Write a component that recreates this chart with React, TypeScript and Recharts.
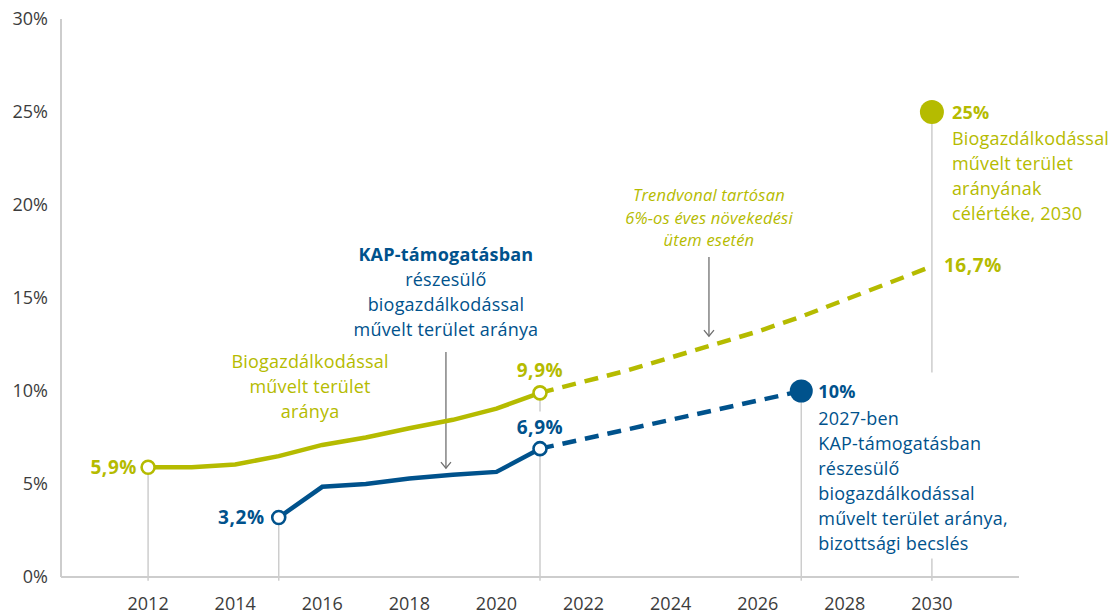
import { LineChart, Line, XAxis, YAxis, ReferenceLine, ReferenceDot } from 'recharts';

const GREEN = '#b5bb00';
const BLUE = '#00528c';
const GREY = '#cdcdcd';
const FONT = "'Open Sans', sans-serif";

// yearly values, % of farmland under organic farming
const years = [2012, 2013, 2014, 2015, 2016, 2017, 2018, 2019, 2020, 2021, 2022, 2023, 2024, 2025, 2026, 2027, 2028, 2029, 2030];
const greenActual = [5.9, 5.9, 6.05, 6.5, 7.1, 7.5, 8.0, 8.45, 9.05, 9.9, null, null, null, null, null, null, null, null, null];
const greenTrend = [null, null, null, null, null, null, null, null, null, 9.9, 10.5, 11.1, 11.8, 12.5, 13.2, 14.0, 14.9, 15.8, 16.7];
const blueActual = [null, null, null, 3.2, 4.85, 5.0, 5.3, 5.5, 5.65, 6.9, null, null, null, null, null, null, null, null, null];
const blueEstimate = [null, null, null, null, null, null, null, null, null, 6.9, null, null, null, null, null, 10, null, null, null];

const xTicks = [2012, 2014, 2016, 2018, 2020, 2022, 2024, 2026, 2028, 2030];
const yTicks = [0, 5, 10, 15, 20, 25, 30];

const rows = years.map((year, i) => ({
  year,
  greenActual: greenActual[i],
  greenTrend: greenTrend[i],
  blueActual: blueActual[i],
  blueEstimate: blueEstimate[i],
}));

type TL = { t: string; b?: boolean };
interface BlockOpts { dx?: number; dy?: number; anchor?: 'start' | 'middle' | 'end'; color: string; size?: number; lh?: number; gap?: number; italic?: boolean; ls?: number; }

// multi-line label drawn relative to a reference dot's centre
function block(lines: TL[], { dx = 0, dy = 0, anchor = 'start', color, size = 18, lh = 25, gap = 0, italic, ls = 0.2 }: BlockOpts) {
  return (props: any) => {
    const vb = props.viewBox || {};
    const cx = vb.x + (vb.width || 0) / 2;
    const cy = vb.y + (vb.height || 0) / 2;
    return (
      <text textAnchor={anchor} fill={color} fontSize={size} fontFamily={FONT} fontStyle={italic ? 'italic' : 'normal'} letterSpacing={ls}>
        {lines.map((l, i) => (
          <tspan key={i} x={cx + dx} y={cy + dy + i * lh + (i > 0 ? gap : 0)} fontWeight={l.b ? 700 : 400}>{l.t}</tspan>
        ))}
      </text>
    );
  };
}

const arrowShape = (props: any) => {
  const { x1, y1, x2, y2 } = props;
  return (
    <g>
      <line x1={x1} y1={y1} x2={x2} y2={y2} stroke="#707070" strokeWidth={1.3} />
      <polyline points={`${x2 - 5},${y2 - 6} ${x2},${y2} ${x2 + 5},${y2 - 6}`} fill="none" stroke="#707070" strokeWidth={1.3} />
    </g>
  );
};

function endDots(color: string, first: number, last: number) {
  return (p: any) => {
    if ((p.index !== first && p.index !== last) || p.value == null) return <g key={p.index} />;
    return <circle key={p.index} cx={p.cx} cy={p.cy} r={6.5} fill="#fff" stroke={color} strokeWidth={2.6} />;
  };
}

const bigDot = (color: string, at: number) => (p: any) => {
  if (p.index !== at) return <g key={p.index} />;
  return <circle key={p.index} cx={p.cx} cy={p.cy} r={11.5} fill={color} />;
};

const tick = { fill: '#3c3c3c', fontSize: 18, fontFamily: FONT };

export default function App() {
  return (
    <div>
      <style>{'body{margin:0}'}</style>
      <LineChart width={1116} height={614} data={rows} margin={{ top: 19, right: 97, bottom: 0, left: 0 }}>
        <XAxis dataKey="year" type="number" domain={[2010, 2032]} ticks={xTicks} axisLine={{ stroke: GREY, strokeWidth: 2 }}
          tickLine={false} tickSize={0} tickMargin={20} height={37} tick={tick} />
        <YAxis domain={[0, 30]} ticks={yTicks} tickFormatter={v => `${v}%`} width={61} axisLine={{ stroke: GREY, strokeWidth: 2 }}
          tickLine={false} tickSize={0} tickMargin={13} tick={tick} />

        {/* drop lines */}
        <ReferenceLine segment={[{ x: 2012, y: -0.2 }, { x: 2012, y: 5.9 }]} stroke={GREY} strokeWidth={1.5} ifOverflow="visible" />
        <ReferenceLine segment={[{ x: 2015, y: -0.2 }, { x: 2015, y: 3.2 }]} stroke={GREY} strokeWidth={1.5} ifOverflow="visible" />
        <ReferenceLine segment={[{ x: 2021, y: -0.2 }, { x: 2021, y: 6.9 }]} stroke={GREY} strokeWidth={1.5} ifOverflow="visible" />
        <ReferenceLine segment={[{ x: 2021, y: 8.9 }, { x: 2021, y: 9.9 }]} stroke={GREY} strokeWidth={1.5} ifOverflow="visible" />
        <ReferenceLine segment={[{ x: 2027, y: -0.2 }, { x: 2027, y: 10 }]} stroke={GREY} strokeWidth={1.5} ifOverflow="visible" />
        <ReferenceLine segment={[{ x: 2030, y: -0.2 }, { x: 2030, y: 1.0 }]} stroke={GREY} strokeWidth={1.5} ifOverflow="visible" />
        <ReferenceLine segment={[{ x: 2030, y: 11.0 }, { x: 2030, y: 25 }]} stroke={GREY} strokeWidth={1.5} ifOverflow="visible" />

        {/* arrows */}
        <ReferenceLine segment={[{ x: 2024.88, y: 17.2 }, { x: 2024.88, y: 12.95 }]} shape={arrowShape} />
        <ReferenceLine segment={[{ x: 2018.84, y: 12.1 }, { x: 2018.84, y: 5.85 }]} shape={arrowShape} />

        <Line dataKey="greenTrend" stroke={GREEN} strokeWidth={4.5} strokeDasharray="14 9" dot={false} isAnimationActive={false} type="linear" />
        <Line dataKey="blueEstimate" stroke={BLUE} strokeWidth={4.5} strokeDasharray="14 9" connectNulls dot={bigDot(BLUE, 15)} isAnimationActive={false} type="linear" />
        <Line dataKey="greenActual" stroke={GREEN} strokeWidth={4.5} dot={endDots(GREEN, 0, 9)} isAnimationActive={false} type="linear" />
        <Line dataKey="blueActual" stroke={BLUE} strokeWidth={4.5} dot={endDots(BLUE, 3, 9)} isAnimationActive={false} type="linear" />

        <ReferenceDot x={2030} y={25} r={12} fill={GREEN} stroke="none"
          label={block([{ t: '25%', b: true }, { t: 'Biogazdálkodással' }, { t: 'művelt terület' }, { t: 'arányának' }, { t: 'célértéke, 2030' }],
            { dx: 20, dy: 6.5, gap: 1, color: GREEN })} />

        {/* value labels */}
        <ReferenceDot x={2012} y={5.9} r={0} stroke="none" label={block([{ t: '5,9%', b: true }], { dx: -11, dy: 6.5, anchor: 'end', color: GREEN, size: 19, ls: 0.6 })} />
        <ReferenceDot x={2015} y={3.2} r={0} stroke="none" label={block([{ t: '3,2%', b: true }], { dx: -14, dy: 6.5, anchor: 'end', color: BLUE, size: 19, ls: 0.6 })} />
        <ReferenceDot x={2021} y={9.9} r={0} stroke="none" label={block([{ t: '9,9%', b: true }], { dy: -16, anchor: 'middle', color: GREEN, size: 19, ls: 0.6 })} />
        <ReferenceDot x={2021} y={6.9} r={0} stroke="none" label={block([{ t: '6,9%', b: true }], { dy: -15, anchor: 'middle', color: BLUE, size: 19, ls: 0.6 })} />
        <ReferenceDot x={2030} y={16.7} r={0} stroke="none" label={block([{ t: '16,7%', b: true }], { dx: 12, dy: 6, color: GREEN, size: 19, ls: 0.6 })} />
        <ReferenceDot x={2027} y={10} r={0} stroke="none"
          label={block([{ t: '10%', b: true }, { t: '2027-ben' }, { t: 'KAP-támogatásban' }, { t: 'részesülő' }, { t: 'biogazdálkodással' }, { t: 'művelt terület aránya,' }, { t: 'bizottsági becslés' }],
            { dx: 17, dy: 6.5, gap: 2, color: BLUE })} />

        {/* captions */}
        <ReferenceDot x={2024.88} y={17.2} r={0} stroke="none"
          label={block([{ t: 'Trendvonal tartósan' }, { t: '6%-os éves növekedési' }, { t: 'ütem esetén' }],
            { dy: -56, lh: 22.5, anchor: 'middle', color: GREEN, size: 16.5, italic: true })} />
        <ReferenceDot x={2018.84} y={12.1} r={0} stroke="none"
          label={block([{ t: 'KAP-támogatásban', b: true }, { t: 'részesülő' }, { t: 'biogazdálkodással' }, { t: 'művelt terület aránya' }],
            { dy: -91, anchor: 'middle', color: BLUE })} />
        <ReferenceDot x={2015.72} y={11.22} r={0} stroke="none"
          label={block([{ t: 'Biogazdálkodással' }, { t: 'művelt terület' }, { t: 'aránya' }],
            { anchor: 'middle', color: GREEN })} />
      </LineChart>
    </div>
  );
}
